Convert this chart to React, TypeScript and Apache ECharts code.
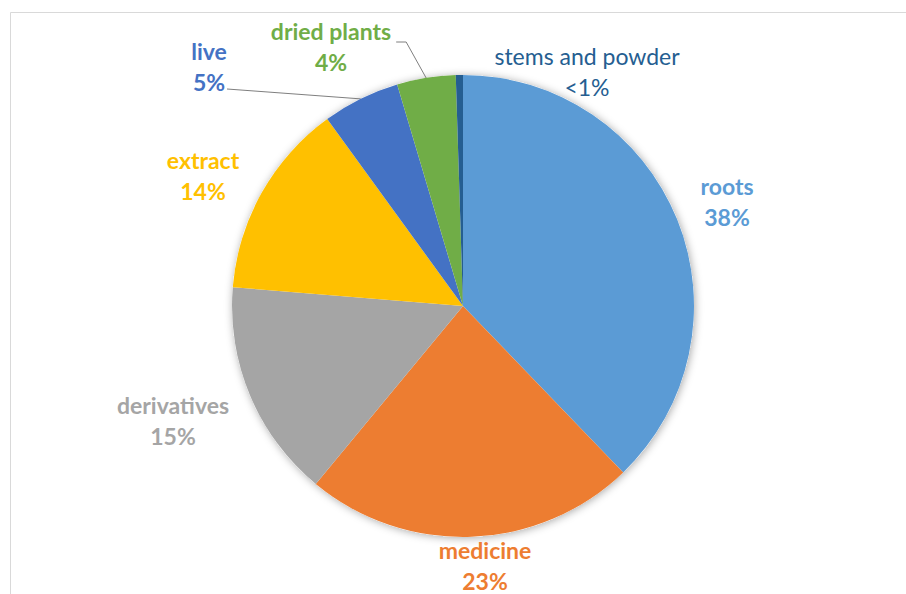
import React, { useEffect, useRef } from "react";
import * as echarts from "echarts";

// Share of traded ginseng products by form
const categories = ["roots", "medicine", "derivatives", "extract", "live", "dried plants", "stems and powder"];
const shares = [37.8, 23.2, 15.3, 13.7, 5.4, 4.1, 0.5];
const colors = ["#5B9BD5", "#ED7D31", "#A5A5A5", "#FFC000", "#4472C4", "#70AD47", "#255E91"];
const boldLabel = [true, true, true, true, true, true, false];
const leaderLine = [false, false, false, false, true, true, false];

// Label block centres (px) placed around the pie
const labelPos: [number, number][] = [
  [727, 201],
  [485, 565],
  [173, 420],
  [203, 175],
  [209, 66],
  [331, 46],
  [587, 71],
];

const CX = 463;
const CY = 306;
const R = 231;

export default function App() {
  const ref = useRef<HTMLDivElement>(null);

  useEffect(() => {
    if (!ref.current) return;
    const chart = echarts.init(ref.current, null, { renderer: "svg" });
    const font = "Lato, 'Open Sans', sans-serif";

    chart.setOption({
      animation: false,
      backgroundColor: "#ffffff",
      graphic: [
        {
          type: "rect",
          shape: { x: 10.5, y: 12.5, width: 1200, height: 1200 },
          style: { fill: "none", stroke: "#d9d9d9", lineWidth: 1 },
          silent: true,
          z: 0,
        },
      ],
      series: [
        {
          // soft drop shadow under the whole disc
          type: "pie",
          silent: true,
          center: [CX, CY],
          radius: R,
          z: 1,
          label: { show: false },
          labelLine: { show: false },
          itemStyle: {
            color: "#ffffff",
            shadowBlur: 8,
            shadowColor: "rgba(0,0,0,0.35)",
            shadowOffsetX: 1,
            shadowOffsetY: 1,
          },
          data: [{ value: 1, name: "" }],
        },
        {
          type: "pie",
          center: [CX, CY],
          radius: R,
          startAngle: 90,
          clockwise: true,
          z: 2,
          itemStyle: { borderWidth: 0 },
          label: {
            show: true,
            position: "outside",
            fontFamily: font,
            fontSize: 23,
            lineHeight: 31,
            align: "center",
            formatter: (p: any) => {
              const pct = p.percent < 1 ? "<1%" : Math.round(p.percent) + "%";
              return p.name + "\n" + pct;
            },
          },
          labelLine: { show: false },
          labelLayout: (p: any) => {
            const i = p.dataIndex;
            const [x, y] = labelPos[i];
            const out: any = { x, y, align: "center", verticalAlign: "middle" };
            if (leaderLine[i] && p.labelLinePoints) {
              const anchor = p.labelLinePoints[0];
              const halfW = p.labelRect.width / 2;
              if (i === 4) {
                out.labelLinePoints = [[x + 18, y + 23], anchor];
              } else {
                out.labelLinePoints = [[x + halfW + 5, y - 4], [x + halfW + 15, y - 4], anchor];
              }
            }
            return out;
          },
          data: categories.map((name, i) => ({
            name,
            value: shares[i],
            itemStyle: { color: colors[i] },
            label: {
              color: colors[i],
              fontWeight: boldLabel[i] ? "bold" : "normal",
            },
            labelLine: {
              show: leaderLine[i],
              lineStyle: { color: "#7f7f7f", width: 1 },
            },
          })),
        },
      ],
    });

    return () => chart.dispose();
  }, []);

  return (
    <div
      ref={ref}
      style={{ position: "fixed", left: 0, top: 0, width: 906, height: 594 }}
    />
  );
}
